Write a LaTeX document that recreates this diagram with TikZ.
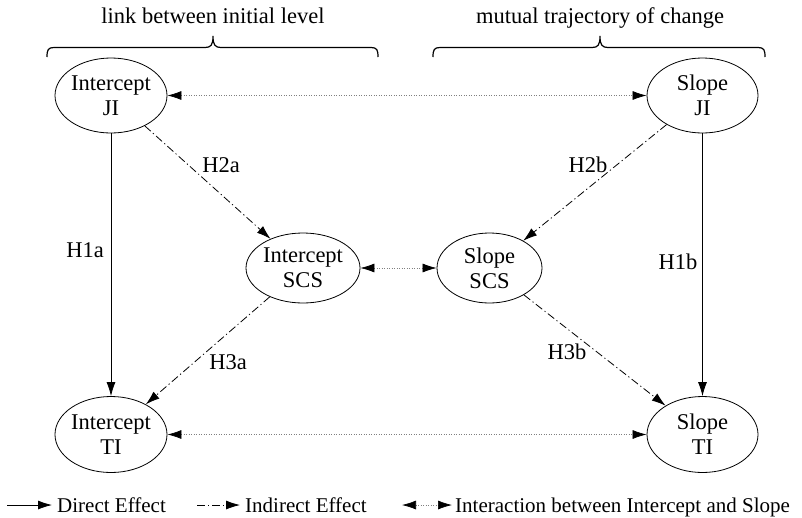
\documentclass[tikz,border=0pt]{standalone}
\usepackage{fontspec}
\setmainfont{Liberation Serif}
\usetikzlibrary{arrows.meta,shapes.geometric}
\begin{document}
\begin{tikzpicture}[x=1pt,y=-1pt,
  latent/.style={ellipse,draw,line width=0.8pt,inner xsep=-4pt,inner ysep=0pt,align=center,
    font=\fontsize{22.5}{25}\selectfont},
  hlabel/.style={font=\fontsize{22.5}{25}\selectfont,inner sep=0pt},
  headtext/.style={font=\fontsize{22.5}{25}\selectfont,inner sep=0pt,anchor=base},
  legtext/.style={font=\fontsize{21}{24}\selectfont,inner sep=0pt,anchor=base west},
  tip/.style={-{Latex[length=14pt,width=9pt,color=black]}},
  direct/.style={tip,line width=0.8pt},
  indirect/.style={tip,line width=0.8pt,dash pattern=on 8pt off 3pt on 1.2pt off 3pt},
  interact/.style={{Latex[length=14pt,width=9pt,color=black]}-{Latex[length=14pt,width=9pt,color=black]},
    draw=gray,line width=0.7pt,dash pattern=on 1pt off 1.5pt},
  bracestyle/.style={line width=1.2pt}
]
\useasboundingbox (0,0) rectangle (802,517);

% headers
\node[headtext] (h1) at (213,23.5) {link between initial level};
\node[headtext] (h2) at (600,23.5) {mutual trajectory of change};
\draw[bracestyle] (47,57) .. controls (47,50) and (48,47.5) .. (54,47.5) -- (205,47.5)
  .. controls (211,47.5) and (213,45) .. (213,36) .. controls (213,45) and (215,47.5) .. (221,47.5)
  -- (371,47.5) .. controls (377,47.5) and (378,50) .. (378,57);
\draw[bracestyle] (433,57) .. controls (433,50) and (434,47.5) .. (440,47.5) -- (592,47.5)
  .. controls (598,47.5) and (600,45) .. (600,36) .. controls (600,45) and (602,47.5) .. (608,47.5)
  -- (758,47.5) .. controls (764,47.5) and (765,50) .. (765,57);

% nodes
\node[latent,minimum width=112pt,minimum height=75pt] (iji) at (111,95.5) {Intercept\\JI};
\node[latent,minimum width=111pt,minimum height=75pt] (sji) at (702.5,95.5) {Slope\\JI};
\node[latent,minimum width=114pt,minimum height=70pt] (iscs) at (303,268) {Intercept\\SCS};
\node[latent,minimum width=105pt,minimum height=70pt] (sscs) at (489.5,268) {Slope\\SCS};
\node[latent,minimum width=112pt,minimum height=76pt] (iti) at (111,434.5) {Intercept\\TI};
\node[latent,minimum width=111pt,minimum height=76pt] (sti) at (702.5,434.5) {Slope\\TI};

% connectors
\draw[direct] (iji) -- (iti);
\draw[direct] (sji) -- (sti);
\draw[indirect] (iji) -- (iscs);
\draw[indirect] (sji) -- (sscs);
\draw[indirect] (iscs) -- (iti);
\draw[indirect] (sscs) -- (sti);
\draw[interact] (iji) -- (sji);
\draw[interact] (iscs) -- (sscs);
\draw[interact] (iti) -- (sti);

% labels
\node[hlabel] (l2a) at (221,165) {H2a};
\node[hlabel] (l1a) at (85,250) {H1a};
\node[hlabel] (l2b) at (588,165) {H2b};
\node[hlabel] (l1b) at (678,262) {H1b};
\node[hlabel] (l3a) at (228,362) {H3a};
\node[hlabel] (l3b) at (567,352) {H3b};

% legend
\coordinate (d1) at (7,505);
\coordinate (d2) at (52,505);
\coordinate (i1) at (197,505);
\coordinate (i2) at (240,505);
\coordinate (x1) at (402,505);
\coordinate (x2) at (452,505);
\draw[direct] (d1) -- (d2);
\draw[indirect] (i1) -- (i2);
\draw[interact] (x1) -- (x2);
\node[legtext] (t1) at (57,512) {Direct Effect};
\node[legtext] (t2) at (245,512) {Indirect Effect};
\node[legtext] (t3) at (455,512) {Interaction between Intercept and Slope};
\end{tikzpicture}
\end{document}
